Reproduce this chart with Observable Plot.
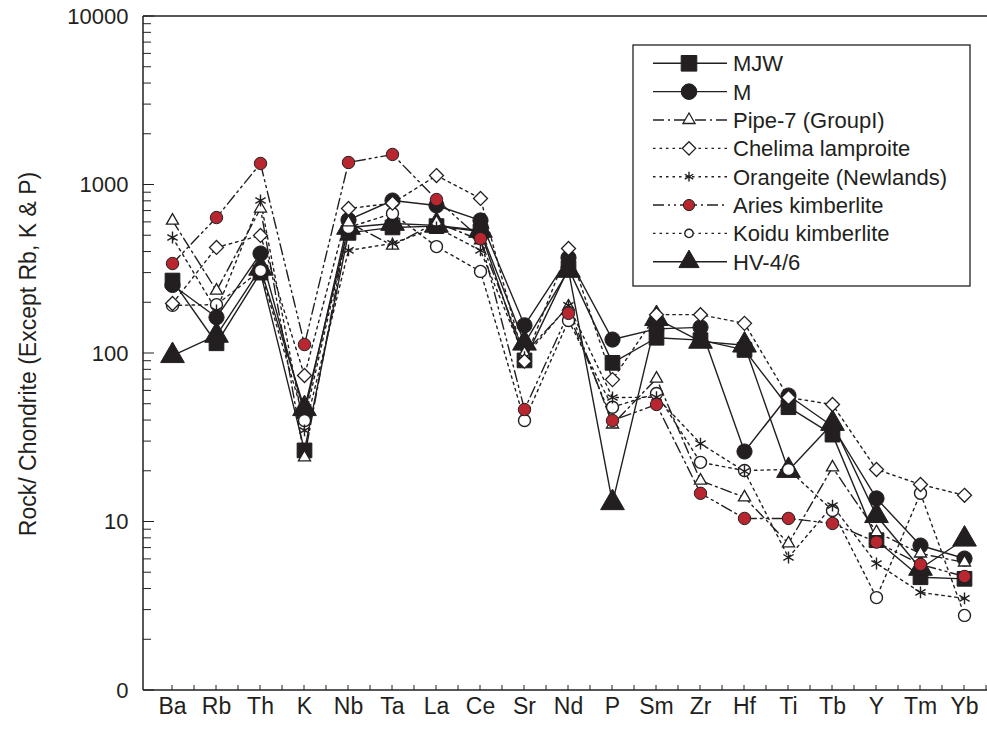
<!DOCTYPE html>
<html><head><meta charset="utf-8">
<script src="https://cdn.jsdelivr.net/npm/d3@7"></script>
<script src="https://cdn.jsdelivr.net/npm/@observablehq/plot@0.6"></script>
<style>
body{margin:0;background:#fff}
svg{font-family:"Liberation Sans",Arial,Helvetica,sans-serif}
</style>
</head><body><div id="chart"></div>
<script>
// ---- data ----
const elements = ["Ba","Rb","Th","K","Nb","Ta","La","Ce","Sr","Nd","P","Sm","Zr","Hf","Ti","Tb","Y","Tm","Yb"];
const MJW       = [271,115,302,26.6,520,560,570,530,91,320,88,124,120,105,48,33,7.8,4.7,4.6];
const M         = [255,164,392,44,620,809,756,616,147,370,121,140,143,26.2,56.3,37,13.8,7.25,6.07];
const Pipe7     = [615,236,725,24.2,600,437,600,470,100,190,37.9,71,17.6,14.0,7.46,21.1,8.7,6.5,5.75];
const Chelima   = [198,426,502,74,725,780,1138,832,90,420,70,170,170,151,54.8,49.8,20.5,16.7,14.4];
const Orangeite = [488,180,809,35,409,450,560,409,95,193,54.8,55,29.2,20,6.16,12.5,5.67,3.82,3.52];
const Aries     = [342,641,1342,113,1360,1518,820,480,46.5,173,40,49.8,14.8,10.5,10.5,9.8,7.6,5.6,4.75];
const Koidu     = [193,195,311,40,560,678,431,307,40,157,48,57.9,22.6,20.2,20.5,11.7,3.56,14.8,2.79];
const HV46      = [97,128,320,47,560,591,576,537,115,311,13,161,118,112,20.2,38.4,10.9,5.3,7.9];
const seriesNames = ["MJW","M","Pipe-7 (GroupI)","Chelima lamproite","Orangeite (Newlands)","Aries kimberlite","Koidu kimberlite","HV-4/6"];
const seriesValues = [MJW, M, Pipe7, Chelima, Orangeite, Aries, Koidu, HV46];
const yTicks = [1,10,100,1000,10000];
const yTickLabels = ["0","10","100","1000","10000"];
const yTitle = "Rock/ Chondrite (Except Rb, K & P)";

// ---- styles ----
const INK = "#231f20", RED = "#b8272f";
const styles = {
  "MJW":                 {symbol:"square",   r:8.3, fill:INK,    stroke:INK, sw:1,   dash:null,            lr:8.8},
  "M":                   {symbol:"circle",   r:7.6, fill:INK,    stroke:INK, sw:1,   dash:null,            lr:7.8},
  "Pipe-7 (GroupI)":     {symbol:"triangle", r:4.5, fill:"white",stroke:INK, sw:1.3, dash:"11,4,2,4",      lr:4.5},
  "Chelima lamproite":   {symbol:"diamond2", r:6.3, fill:"white",stroke:INK, sw:1.3, dash:"2.5,4",         lr:6.0},
  "Orangeite (Newlands)":{symbol:"asterisk", r:5.6, fill:"none", stroke:INK, sw:1.4, dash:"2.5,4",         lr:4.6},
  "Aries kimberlite":    {symbol:"circle",   r:6.2, fill:RED,    stroke:INK, sw:1,   dash:"11,4,2,4,2,4",  lr:5.6},
  "Koidu kimberlite":    {symbol:"circle",   r:6.0, fill:"white",stroke:INK, sw:1.4, dash:"2.5,4",         lr:4.2},
  "HV-4/6":              {symbol:"triangle", r:8.8, fill:INK,    stroke:INK, sw:1,   dash:null,            lr:7.5}
};
const dotOrder = ["MJW","M","HV-4/6","Koidu kimberlite","Pipe-7 (GroupI)","Orangeite (Newlands)","Chelima lamproite","Aries kimberlite"];

const rows = [];
seriesNames.forEach((s, i) => elements.forEach((e, j) => rows.push({series: s, element: e, value: seriesValues[i][j]})));

const lineMarks = seriesNames.map(s => Plot.lineY(rows.filter(d => d.series === s), {
  x: "element", y: "value", stroke: INK, strokeWidth: 1.4,
  strokeDasharray: styles[s].dash || undefined
}));
const dotMarks = dotOrder.map(s => Plot.dot(rows.filter(d => d.series === s), {
  x: "element", y: "value", symbol: styles[s].symbol, r: styles[s].r,
  fill: styles[s].fill, stroke: styles[s].stroke, strokeWidth: styles[s].sw
}));

const W = 987, H = 729, ML = 143, MT = 16, MB = 39;
const plot = Plot.plot({
  width: W, height: H,
  marginLeft: ML, marginRight: 0, marginTop: MT, marginBottom: MB,
  style: {background: "white", color: INK, fontFamily: "Liberation Sans, Arial, sans-serif"},
  x: {type: "point", domain: elements, range: [164, 971], padding: 0},
  y: {type: "log", domain: [1, 10000]},
  marks: [
    Plot.axisX({tickSize: 0, tickPadding: 7, fontSize: 23, label: null}),
    Plot.axisY({ticks: yTicks, tickFormat: d => yTickLabels[yTicks.indexOf(d)], tickSize: 0, tickPadding: 15, fontSize: 22, label: null}),
    ...lineMarks,
    ...dotMarks
  ]
});
document.getElementById("chart").appendChild(plot);

// ---- frame, inward ticks, title, legend (using the plot's scales) ----
const svg = d3.select(plot);
const ys = plot.scale("y"), xs = plot.scale("x");
const y0 = ys.apply(1), yTop = ys.apply(10000);
const g = svg.append("g").attr("stroke", INK).attr("fill", "none");
g.append("line").attr("x1", ML).attr("x2", ML).attr("y1", yTop).attr("y2", y0).attr("stroke-width", 1.5);
g.append("line").attr("x1", ML).attr("x2", W).attr("y1", yTop).attr("y2", yTop).attr("stroke-width", 1.3);
g.append("line").attr("x1", ML).attr("x2", W).attr("y1", y0).attr("y2", y0).attr("stroke-width", 1.5);
for (let dec = 1; dec < 10000; dec *= 10) {
  for (let m = 1; m <= 9; m++) {
    const v = dec * m, yy = ys.apply(v);
    g.append("line").attr("x1", ML).attr("x2", ML + (m === 1 ? 11 : 8)).attr("y1", yy).attr("y2", yy).attr("stroke-width", 1);
  }
}
g.append("line").attr("x1", ML).attr("x2", ML + 11).attr("y1", yTop).attr("y2", yTop).attr("stroke-width", 1);
const xp = elements.map(e => xs.apply(e));
const step = xp[1] - xp[0];
for (let i = 0; i < xp.length; i++) {
  [xp[i], xp[i] + step / 2].forEach(xx => {
    if (xx < W) g.append("line").attr("x1", xx).attr("x2", xx).attr("y1", y0).attr("y2", y0 - 5).attr("stroke-width", 1);
  });
}
svg.append("text").attr("transform", `translate(36,${(y0 + yTop) / 2 + 1}) rotate(-90)`)
  .attr("text-anchor", "middle").attr("fill", INK).attr("font-size", 23).text(yTitle);

// legend
const lg = svg.append("g").attr("text-anchor", "start");
lg.append("rect").attr("x", 633).attr("y", 45).attr("width", 337).attr("height", 241)
  .attr("fill", "white").attr("stroke", INK).attr("stroke-width", 1.3);
const symMap = {square: d3.symbolSquare, circle: d3.symbolCircle, triangle: d3.symbolTriangle, diamond2: d3.symbolDiamond2, asterisk: d3.symbolAsterisk};
seriesNames.forEach((s, i) => {
  const st = styles[s], yy = 63.3 + i * 28.35;
  lg.append("line").attr("x1", 653).attr("x2", 727).attr("y1", yy).attr("y2", yy)
    .attr("stroke", INK).attr("stroke-width", 1.4).attr("stroke-dasharray", st.dash || null);
  lg.append("path").attr("transform", `translate(689,${yy})`)
    .attr("d", d3.symbol(symMap[st.symbol], Math.PI * st.lr * st.lr)())
    .attr("fill", st.fill).attr("stroke", st.stroke).attr("stroke-width", st.sw);
  lg.append("text").attr("x", 733).attr("y", yy).attr("dy", "0.36em").attr("fill", INK)
    .attr("text-anchor", "start").attr("font-size", 22).text(s);
});
</script>
</body></html>
